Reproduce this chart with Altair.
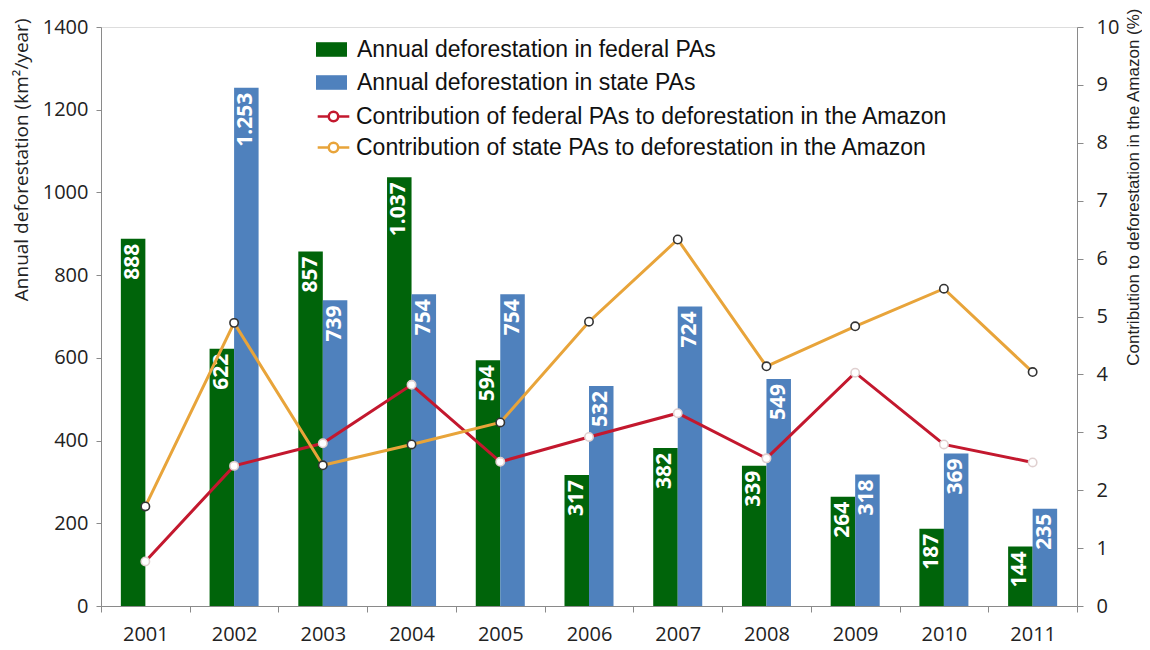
import altair as alt
import pandas as pd

years = ["2001", "2002", "2003", "2004", "2005", "2006", "2007", "2008", "2009", "2010", "2011"]
federal = [888, 622, 857, 1037, 594, 317, 382, 339, 264, 187, 144]
state = [None, 1253, 739, 754, 754, 532, 724, 549, 318, 369, 235]
federal_pct = [0.77, 2.42, 2.81, 3.82, 2.49, 2.92, 3.33, 2.55, 4.03, 2.79, 2.48]
state_pct = [1.72, 4.89, 2.43, 2.79, 3.17, 4.91, 6.33, 4.14, 4.83, 5.48, 4.04]

FED = "Annual deforestation in federal PAs"
STA = "Annual deforestation in state PAs"
CFED = "Contribution of federal PAs to deforestation in the Amazon"
CSTA = "Contribution of state PAs to deforestation in the Amazon"

GREEN = "#00640A"
BLUE = "#4F81BD"
RED = "#C3182E"
ORANGE = "#E8A43A"
AXIS = "#8A8A8A"


def fmt(v):
    return f"{v:,}".replace(",", ".")


bar_rows = []
for y, f, s in zip(years, federal, state):
    bar_rows.append({"year": y, "series": FED, "value": f, "label": fmt(f)})
    if s is not None:
        bar_rows.append({"year": y, "series": STA, "value": s, "label": fmt(s)})
bars_df = pd.DataFrame(bar_rows)

line_rows = []
for y, f, s in zip(years, federal_pct, state_pct):
    line_rows.append({"year": y, "series": CFED, "pct": f, "kind": "fed"})
    line_rows.append({"year": y, "series": CSTA, "pct": s, "kind": "state"})
lines_df = pd.DataFrame(line_rows)

x_enc = alt.X(
    "year:N",
    sort=years,
    scale=alt.Scale(paddingInner=0, paddingOuter=0),
    axis=alt.Axis(
        title=None, labelAngle=0, tickBand="extent", tickSize=6,
        labelPadding=12, labelFont="Open Sans", labelFontSize=20,
        labelColor="#222", domainColor=AXIS, tickColor=AXIS,
    ),
)
xoff = alt.XOffset("series:N", sort=[FED, STA],
                   scale=alt.Scale(paddingInner=0, paddingOuter=0.81))

y_left = alt.Y(
    "value:Q",
    scale=alt.Scale(domain=[0, 1400], nice=False),
    axis=alt.Axis(
        values=list(range(0, 1401, 200)), format="d", grid=False, tickSize=5,
        labelPadding=8, labelFont="Open Sans", labelFontSize=20, labelColor="#222",
        domainColor=AXIS, tickColor=AXIS,
        title="Annual deforestation (km²/year)", titleFont="Open Sans",
        titleFontSize=19, titleFontWeight="normal", titleColor="#222",
        titleAngle=270, titleAlign="right", titleBaseline="middle",
        titleX=-80, titleY=-9,
    ),
)

bars = alt.Chart(bars_df).mark_bar().encode(
    x=x_enc,
    xOffset=xoff,
    y=y_left,
    fill=alt.Fill(
        "series:N",
        scale=alt.Scale(domain=[FED, STA], range=[GREEN, BLUE]),
        legend=alt.Legend(
            title=None, orient="none", legendX=215, legendY=7,
            symbolType="M-1,-0.47L1,-0.47L1,0.47L-1,0.47Z", symbolSize=960,
            symbolStrokeWidth=0, labelFont="Liberation Sans", labelFontSize=23,
            labelColor="#111", labelLimit=800, labelOffset=10, rowPadding=5,
            padding=0,
        ),
    ),
)

texts = alt.Chart(bars_df).mark_text(
    angle=270, align="right", baseline="middle", dx=-5, color="white",
    font="Open Sans", fontSize=21, fontWeight="bold",
).encode(
    x=alt.X("year:N", sort=years),
    xOffset=alt.XOffset("series:N", sort=[FED, STA]),
    y=alt.Y("value:Q"),
    text="label:N",
)

left = alt.layer(bars, texts)

y_right = alt.Y(
    "pct:Q",
    scale=alt.Scale(domain=[0, 10], nice=False),
    axis=alt.Axis(
        orient="right", values=list(range(0, 11)), format="d", grid=False, tickSize=6,
        labelPadding=13, labelFont="Open Sans", labelFontSize=20, labelColor="#222",
        domainColor=AXIS, tickColor=AXIS,
        title="Contribution to deforestation in the Amazon (%)",
        titleFont="Liberation Sans Narrow, Liberation Sans", titleFontSize=17,
        titleFontWeight="normal", titleColor="#222", titleAngle=270,
        titleAlign="right", titleBaseline="middle", titleX=56, titleY=-19,
    ),
)

lines = alt.Chart(lines_df).mark_line(strokeWidth=3).encode(
    x=alt.X("year:N", sort=years),
    y=y_right,
    stroke=alt.Stroke(
        "series:N",
        scale=alt.Scale(domain=[CFED, CSTA], range=[RED, ORANGE]),
        legend=alt.Legend(
            title=None, orient="none", legendX=215, legendY=72,
            symbolType="M-1,0L-0.3,0M0.3,0L1,0M0.3,0A0.3,0.3,0,1,1,-0.3,0A0.3,0.3,0,1,1,0.3,0Z",
            symbolSize=1000, symbolStrokeWidth=2.5, symbolFillColor="white",
            labelFont="Liberation Sans", labelFontSize=23, labelColor="#111",
            labelLimit=800, labelOffset=5, rowPadding=1, padding=0,
        ),
    ),
    detail="series:N",
)

points = alt.Chart(lines_df).mark_point(
    filled=True, size=70, fill="white", strokeWidth=1.6, opacity=1,
).encode(
    x=alt.X("year:N", sort=years),
    y=alt.Y("pct:Q"),
    stroke=alt.condition("datum.kind === 'state'", alt.value("#333333"), alt.value("#e0d0d0")),
)

right = alt.layer(lines, points)

chart = alt.layer(left, right).resolve_scale(y="independent").properties(
    width=976,
    height=579,
    autosize=alt.AutoSizeParams(type="none"),
    padding={"left": 93, "top": 19, "right": 65, "bottom": 40},
).configure_view(stroke="#A0A0A0").configure(background="white")

chart.save("out.html", embed_options={"renderer": "svg", "actions": False})
